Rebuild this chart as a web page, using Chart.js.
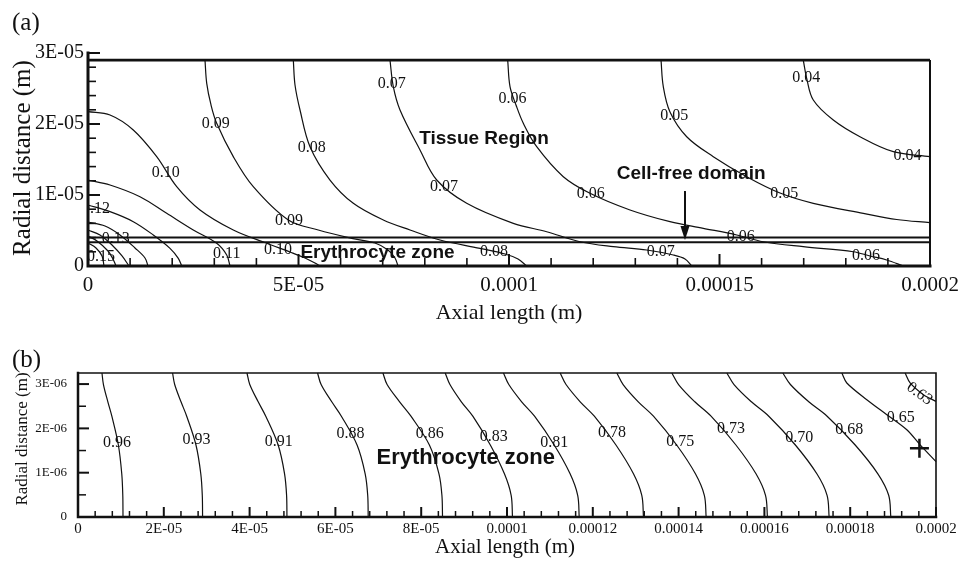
<!DOCTYPE html>
<html><head><meta charset="utf-8">
<script src="https://cdn.jsdelivr.net/npm/chart.js@4.4.1/dist/chart.umd.min.js"></script>
<style>
html,body{margin:0;padding:0;background:#fff;}
#wrap{position:relative;width:974px;height:561px;background:#fff;}
#ca{position:absolute;left:0;top:0;width:974px;height:330px;}
#cb{position:absolute;left:0;top:330px;width:974px;height:231px;}
</style></head><body>
<div id="wrap"><canvas id="ca" width="974" height="330"></canvas><canvas id="cb" width="974" height="231"></canvas></div>
<script>
// ================= Panel (a) data =================
const aXTickValues = [0, 5e-5, 1e-4, 1.5e-4, 2e-4];
const aXTickLabels = ['0', '5E-05', '0.0001', '0.00015', '0.0002'];
const aYTickValues = [0, 1e-5, 2e-5, 3e-5];
const aYTickLabels = ['0', '1E-05', '2E-05', '3E-05'];
const aTissueTop = 2.9e-5;
const aZoneBounds = [3.34e-6, 4.0e-6];

const aC015b = [[0,3.24e-6],[1.90e-6,2.54e-6],[3.33e-6,1.41e-6],[3.80e-6,0]];
const aC015a = [[0,4.23e-6],[2.14e-6,3.52e-6],[4.75e-6,2.11e-6],[5.94e-6,9.9e-7],[6.65e-6,0]];
const aC014 = [[0,5.07e-6],[2.85e-6,4.37e-6],[5.70e-6,2.96e-6],[8.08e-6,1.41e-6],[9.74e-6,0]];
const aC013 = [[0,6.20e-6],[4.04e-6,5.63e-6],[7.60e-6,4.37e-6],[1.116e-5,2.54e-6],[1.354e-5,1.13e-6],[1.425e-5,0]];
const aC012 = [[0,8.59e-6],[5.23e-6,7.65e-6],[1.076e-5,6.24e-6],[1.551e-5,4.37e-6],[1.948e-5,2.49e-6],[2.145e-5,1.08e-6],[2.226e-5,0]];
const aC011 = [[0,1.211e-5],[5.23e-6,1.141e-5],[1.235e-5,9.76e-6],[1.869e-5,7.42e-6],[2.501e-5,5.07e-6],[3.057e-5,3.20e-6],[3.295e-5,1.55e-6],[3.373e-5,0]];
const aC010 = [[0,2.173e-5],[5.23e-6,2.127e-5],[1.076e-5,1.916e-5],[1.632e-5,1.540e-5],[2.107e-5,1.117e-5],[2.660e-5,7.89e-6],[3.451e-5,5.07e-6],[4.245e-5,3.20e-6],[4.798e-5,1.97e-6],[5.154e-5,1.13e-6],[5.392e-5,4.2e-7],[5.51e-5,0]];
const aC009 = [[2.779e-5,2.9e-5],[2.820e-5,2.573e-5],[2.922e-5,2.268e-5],[3.057e-5,2.010e-5],[3.451e-5,1.540e-5],[3.926e-5,1.117e-5],[4.758e-5,6.48e-6],[5.470e-5,5.07e-6],[6.264e-5,3.90e-6],[6.817e-5,3.24e-6],[7.126e-5,2.25e-6],[7.292e-5,1.13e-6],[7.363e-5,0]];
const aC008 = [[4.877e-5,2.9e-5],[4.917e-5,2.549e-5],[5.036e-5,2.197e-5],[5.273e-5,1.680e-5],[5.748e-5,1.211e-5],[6.302e-5,8.83e-6],[7.014e-5,6.48e-6],[7.649e-5,5.07e-6],[8.361e-5,3.66e-6],[9.311e-5,2.49e-6],[9.905e-5,1.69e-6],[1.0214e-4,9.9e-7],[1.0420e-4,0]];
const aC007 = [[7.173e-5,2.9e-5],[7.252e-5,2.525e-5],[7.411e-5,2.197e-5],[7.886e-5,1.634e-5],[8.283e-5,1.211e-5],[8.995e-5,8.83e-6],[1.0102e-4,6.01e-6],[1.0895e-4,4.83e-6],[1.1686e-4,3.42e-6],[1.2477e-4,2.72e-6],[1.3271e-4,2.25e-6],[1.3903e-4,1.55e-6],[1.4181e-4,9.9e-7],[1.4340e-4,0]];
const aC006 = [[9.969e-5,2.9e-5],[1.0024e-4,2.525e-5],[1.0166e-4,2.268e-5],[1.0340e-4,2.010e-5],[1.0658e-4,1.680e-5],[1.1290e-4,1.258e-5],[1.1924e-4,1.024e-5],[1.2874e-4,7.89e-6],[1.3824e-4,6.24e-6],[1.4615e-4,5.31e-6],[1.5409e-4,4.37e-6],[1.6040e-4,3.42e-6],[1.6990e-4,2.72e-6],[1.8178e-4,2.01e-6],[1.8575e-4,1.41e-6],[1.8971e-4,8.5e-7],[1.9366e-4,0]];
const aC005 = [[1.3611e-4,2.9e-5],[1.3665e-4,2.525e-5],[1.3824e-4,2.169e-5],[1.4221e-4,1.821e-5],[1.4853e-4,1.540e-5],[1.5646e-4,1.258e-5],[1.6437e-4,1.028e-5],[1.7228e-4,8.83e-6],[1.8416e-4,7.42e-6],[1.9209e-4,6.55e-6],[2.0e-4,6.10e-6]];
const aC004 = [[1.6990e-4,2.9e-5],[1.7071e-4,2.644e-5],[1.7228e-4,2.338e-5],[1.7703e-4,2.056e-5],[1.8337e-4,1.821e-5],[1.9128e-4,1.610e-5],[2.0e-4,1.540e-5]];

const aLabelText = ['0.15','0.13','0.12','0.11','0.10','0.10','0.09','0.09','0.08','0.08','0.07','0.07','0.07','0.06','0.06','0.06','0.06','0.05','0.05','0.04','0.04'];
const aLabelX = [3.09e-6,6.60e-6,1.9e-6,3.295e-5,4.513e-5,1.846e-5,3.036e-5,4.774e-5,5.313e-5,9.644e-5,7.213e-5,8.456e-5,1.3606e-4,1.0083e-4,1.1943e-4,1.5506e-4,1.848e-4,1.3924e-4,1.6537e-4,1.7059e-4,1.9466e-4];
const aLabelY = [1.27e-6,3.90e-6,8.03e-6,1.69e-6,2.25e-6,1.314e-5,2.0e-5,6.34e-6,1.669e-5,1.97e-6,2.573e-5,1.117e-5,2.01e-6,2.349e-5,1.011e-5,4.06e-6,1.44e-6,2.115e-5,1.011e-5,2.644e-5,1.552e-5];

const aRegionText = ['Tissue Region','Cell-free domain','Erythrocyte zone'];
const aRegionX = [9.406e-5,1.4327e-4,6.876e-5];
const aRegionY = [1.789e-5,1.293e-5,1.83e-6];
const aArrowX = 1.418e-4;
const aArrowY = [1.056e-5, 3.66e-6];

// ================= Panel (b) data =================
const bXTickValues = [0,2e-5,4e-5,6e-5,8e-5,1e-4,1.2e-4,1.4e-4,1.6e-4,1.8e-4,2e-4];
const bXTickLabels = ['0','2E-05','4E-05','6E-05','8E-05','0.0001','0.00012','0.00014','0.00016','0.00018','0.0002'];
const bYTickValues = [0,1e-6,2e-6,3e-6];
const bYTickLabels = ['0','1E-06','2E-06','3E-06'];
const bYMax = 3.25e-6;

const bContourY = [3.25e-6,2.99e-6,2.6e-6,2.275e-6,1.625e-6,9.75e-7,4.9e-7,0];
const bC096X = [5.59e-6,5.93e-6,6.96e-6,7.89e-6,9.41e-6,1.020e-5,1.044e-5,1.049e-5];
const bC093X = [2.205e-5,2.254e-5,2.401e-5,2.534e-5,2.750e-5,2.862e-5,2.897e-5,2.904e-5];
const bC091X = [3.939e-5,4.004e-5,4.200e-5,4.377e-5,4.666e-5,4.815e-5,4.862e-5,4.871e-5];
const bC088X = [5.584e-5,5.667e-5,5.915e-5,6.139e-5,6.505e-5,6.694e-5,6.753e-5,6.765e-5];
const bC086X = [7.108e-5,7.205e-5,7.497e-5,7.761e-5,8.191e-5,8.414e-5,8.483e-5,8.497e-5];
const bC083X = [8.560e-5,8.670e-5,8.936e-5,9.203e-5,9.611e-5,9.940e-5,1.0097e-4,1.0128e-4];
const bC081X = [9.918e-5,1.0042e-4,1.0342e-4,1.0642e-4,1.1101e-4,1.1471e-4,1.1648e-4,1.1683e-4];
const bC078X = [1.1240e-4,1.1376e-4,1.1706e-4,1.2036e-4,1.2540e-4,1.2948e-4,1.3142e-4,1.3181e-4];
const bC075X = [1.2561e-4,1.2707e-4,1.3060e-4,1.3414e-4,1.3955e-4,1.4392e-4,1.4600e-4,1.4642e-4];
const bC073X = [1.3843e-4,1.3999e-4,1.4378e-4,1.4756e-4,1.5336e-4,1.5804e-4,1.6026e-4,1.6071e-4];
const bC070X = [1.5125e-4,1.5292e-4,1.5697e-4,1.6102e-4,1.6722e-4,1.7223e-4,1.7461e-4,1.7509e-4];
const bC068X = [1.6430e-4,1.6606e-4,1.7034e-4,1.7462e-4,1.8116e-4,1.8645e-4,1.8897e-4,1.8947e-4];
const bC065 = [[1.7805e-4,3.25e-6],[1.7921e-4,3.025e-6],[1.8387e-4,2.647e-6],[1.8854e-4,2.308e-6],[1.9320e-4,1.968e-6],[1.9630e-4,1.629e-6],[2.0e-4,1.251e-6]];
const bC063 = [[1.9280e-4,3.25e-6],[1.9397e-4,3.025e-6],[1.9707e-4,2.760e-6],[2.0e-4,2.609e-6]];
const bMarker = [1.9614e-4, 1.554e-6];

const bLabelText = ['0.96','0.93','0.91','0.88','0.86','0.83','0.81','0.78','0.75','0.73','0.70','0.68','0.65','0.63'];
const bLabelX = [9.1e-6,2.76e-5,4.68e-5,6.35e-5,8.2e-5,9.69e-5,1.110e-4,1.245e-4,1.404e-4,1.522e-4,1.681e-4,1.798e-4,1.918e-4,1.9614e-4];
const bLabelY = [1.68e-6,1.74e-6,1.70e-6,1.88e-6,1.88e-6,1.80e-6,1.68e-6,1.89e-6,1.70e-6,1.98e-6,1.78e-6,1.97e-6,2.23e-6,2.78e-6];
const bRegionText = ['Erythrocyte zone'];
const bRegionX = [9.038e-5];
const bRegionY = [1.335e-6];

// ================= helpers =================
const SERIF = '"Liberation Serif", "Times New Roman", serif';
const SANS = '"Liberation Sans", Arial, sans-serif';
const INK = '#111';
const toPts = arr => arr.map(p => ({x: p[0], y: p[1]}));
const zipPts = (xs, ys) => xs.map((x, i) => ({x: x, y: ys[i]}));
function lineDs(pts, w, tension) {
  return {data: pts, borderColor: INK, borderWidth: w, pointRadius: 0, tension: tension, fill: false, clip: false, borderCapStyle: 'butt'};
}

function makeDecor(o) {
  return {
    id: 'decor',
    afterDatasetsDraw(chart) {
      const ctx = chart.ctx, xs = chart.scales.x, ys = chart.scales.y, ca = chart.chartArea;
      const px = v => xs.getPixelForValue(v), py = v => ys.getPixelForValue(v);
      ctx.save();
      // contour labels (clipped to plot area)
      ctx.save();
      ctx.beginPath(); ctx.rect(ca.left, ca.top, ca.right - ca.left, ca.bottom - ca.top); ctx.clip();
      ctx.fillStyle = INK; ctx.font = o.labelFont; ctx.textAlign = 'center'; ctx.textBaseline = 'middle';
      o.labelText.forEach((t, i) => {
        const ang = (o.labelAngle && o.labelAngle[t]) || 0;
        ctx.save(); ctx.translate(px(o.labelX[i]), py(o.labelY[i])); ctx.rotate(ang * Math.PI / 180);
        ctx.fillText(t, 0, 0); ctx.restore();
      });
      ctx.font = o.regionFont;
      o.regionText.forEach((t, i) => ctx.fillText(t, px(o.regionX[i]), py(o.regionY[i])));
      ctx.restore();
      // arrow
      if (o.arrow) {
        const ax = px(o.arrow.x), y1 = py(o.arrow.y[0]), y2 = py(o.arrow.y[1]);
        ctx.strokeStyle = INK; ctx.fillStyle = INK; ctx.lineWidth = 2;
        ctx.beginPath(); ctx.moveTo(ax, y1); ctx.lineTo(ax, y2 - 10); ctx.stroke();
        ctx.beginPath(); ctx.moveTo(ax - 4.5, y2 - 14); ctx.lineTo(ax + 4.5, y2 - 14); ctx.lineTo(ax, y2); ctx.closePath(); ctx.fill();
      }
      // ticks (inward)
      ctx.strokeStyle = INK; ctx.lineCap = 'butt';
      const x0 = px(o.xMin), x1 = px(o.xMax), y0 = py(0);
      for (let i = 0; i <= Math.round((o.xMax - o.xMin) / o.xMinor); i++) {
        const v = o.xMin + i * o.xMinor;
        const major = Math.abs(v / o.xMajor - Math.round(v / o.xMajor)) < 1e-6;
        ctx.lineWidth = major ? o.tickW[0] : o.tickW[1];
        const L = major ? o.xTickLen[0] : o.xTickLen[1];
        ctx.beginPath(); ctx.moveTo(px(v), y0); ctx.lineTo(px(v), y0 - L); ctx.stroke();
      }
      for (let i = 0; i <= Math.round(o.yTickMax / o.yMinor); i++) {
        const v = i * o.yMinor;
        const major = Math.abs(v / o.yMajor - Math.round(v / o.yMajor)) < 1e-6;
        ctx.lineWidth = major ? o.tickW[0] : o.tickW[1];
        const L = major ? o.yTickLen[0] : o.yTickLen[1];
        ctx.beginPath(); ctx.moveTo(x0, py(v)); ctx.lineTo(x0 + L, py(v)); ctx.stroke();
      }
      // frame
      ctx.lineCap = 'square';
      ctx.lineWidth = o.axisW;
      ctx.beginPath(); ctx.moveTo(x0, py(o.leftTop)); ctx.lineTo(x0, y0); ctx.lineTo(x1, y0); ctx.stroke();
      if (o.box) {
        ctx.lineWidth = o.boxW;
        ctx.beginPath(); ctx.moveTo(x0, ca.top); ctx.lineTo(x1, ca.top); ctx.lineTo(x1, y0); ctx.stroke();
      }
      // tick labels
      ctx.fillStyle = INK;
      ctx.font = o.xTickFont; ctx.textAlign = 'center'; ctx.textBaseline = 'middle';
      o.xTickValues.forEach((v, i) => ctx.fillText(o.xTickLabels[i], px(v), y0 + o.xLabelGap));
      ctx.font = o.yTickFont; ctx.textAlign = 'right';
      o.yTickValues.forEach((v, i) => ctx.fillText(o.yTickLabels[i], x0 - o.yLabelGap, py(v)));
      // axis titles
      ctx.textAlign = 'center';
      ctx.font = o.xTitleFont; ctx.fillText('Axial length (m)', o.xTitlePos[0], o.xTitlePos[1]);
      ctx.save(); ctx.translate(o.yTitlePos[0], o.yTitlePos[1]); ctx.rotate(-Math.PI / 2);
      ctx.font = o.yTitleFont; ctx.fillText('Radial distance (m)', 0, 0); ctx.restore();
      // panel letter
      ctx.textAlign = 'left'; ctx.font = o.panelFont; ctx.fillText(o.panel, o.panelPos[0], o.panelPos[1]);
      ctx.restore();
    }
  };
}

const baseOpts = (pad, xmax, ymin, ymax) => ({
  responsive: false, animation: false, events: [],
  layout: {padding: pad},
  scales: {x: {type: 'linear', min: 0, max: xmax, display: false}, y: {type: 'linear', min: ymin, max: ymax, display: false}},
  plugins: {legend: {display: false}, tooltip: {enabled: false}}
});

// ================= Chart (a) =================
const aDatasets = [aC015b, aC015a, aC014, aC013, aC012, aC011, aC010, aC009, aC008, aC007, aC006, aC005, aC004]
  .map(c => lineDs(toPts(c), 1.2, 0.35));
aDatasets.push(lineDs([{x: 0, y: aTissueTop}, {x: 2e-4, y: aTissueTop}], 2.6, 0));
aDatasets.push(lineDs([{x: 2e-4, y: 0}, {x: 2e-4, y: aTissueTop}], 2, 0));
aZoneBounds.forEach(b => aDatasets.push(lineDs([{x: 0, y: b}, {x: 2e-4, y: b}], 2, 0)));

new Chart(document.getElementById('ca'), {
  type: 'line',
  data: {datasets: aDatasets},
  options: baseOpts({left: 88, right: 44, top: 53, bottom: 64}, 2e-4, 0, 3e-5),
  plugins: [makeDecor({
    labelText: aLabelText, labelX: aLabelX, labelY: aLabelY, labelFont: '16px ' + SERIF,
    regionText: aRegionText, regionX: aRegionX, regionY: aRegionY, regionFont: 'bold 19px ' + SANS,
    arrow: {x: aArrowX, y: aArrowY},
    xMin: 0, xMax: 2e-4, xMajor: 5e-5, xMinor: 1e-5, xTickLen: [12, 8],
    yTickMax: 3e-5, yMajor: 1e-5, yMinor: 2e-6, yTickLen: [12, 8], tickW: [2, 1.6],
    leftTop: 3e-5, axisW: 3, box: false,
    xTickValues: aXTickValues, xTickLabels: aXTickLabels, xTickFont: '21px ' + SERIF, xLabelGap: 19,
    yTickValues: aYTickValues, yTickLabels: aYTickLabels, yTickFont: '20px ' + SERIF, yLabelGap: 4,
    xTitleFont: '22px ' + SERIF, xTitlePos: [509, 313],
    yTitleFont: '25px ' + SERIF, yTitlePos: [23, 158],
    panel: '(a)', panelFont: '25px ' + SERIF, panelPos: [12, 23]
  })]
});

// ================= Chart (b) =================
const bDatasets = [bC096X, bC093X, bC091X, bC088X, bC086X, bC083X, bC081X, bC078X, bC075X, bC073X, bC070X, bC068X]
  .map(xs => lineDs(zipPts(xs, bContourY), 1.2, 0.35));
bDatasets.push(lineDs(toPts(bC065), 1.2, 0.3));
bDatasets.push(lineDs(toPts(bC063), 1.2, 0.3));
bDatasets.push({data: [{x: bMarker[0], y: bMarker[1]}], showLine: false, pointStyle: 'cross', pointRadius: 9.5,
  borderColor: INK, borderWidth: 2.5, backgroundColor: INK, clip: false});

new Chart(document.getElementById('cb'), {
  type: 'line',
  data: {datasets: bDatasets},
  options: baseOpts({left: 78, right: 38, top: 43, bottom: 44}, 2e-4, 0, bYMax),
  plugins: [makeDecor({
    labelText: bLabelText, labelX: bLabelX, labelY: bLabelY, labelFont: '16px ' + SERIF, labelAngle: {'0.63': 36},
    regionText: bRegionText, regionX: bRegionX, regionY: bRegionY, regionFont: 'bold 22px ' + SANS,
    xMin: 0, xMax: 2e-4, xMajor: 2e-5, xMinor: 4e-6, xTickLen: [10, 6],
    yTickMax: 3e-6, yMajor: 1e-6, yMinor: 5e-7, yTickLen: [11, 8], tickW: [2, 1.5],
    leftTop: bYMax, axisW: 2.5, box: true, boxW: 1.6,
    xTickValues: bXTickValues, xTickLabels: bXTickLabels, xTickFont: '15px ' + SERIF, xLabelGap: 12,
    yTickValues: bYTickValues, yTickLabels: bYTickLabels, yTickFont: '13px ' + SERIF, yLabelGap: 11,
    xTitleFont: '21px ' + SERIF, xTitlePos: [505, 217],
    yTitleFont: '17px ' + SERIF, yTitlePos: [23, 109],
    panel: '(b)', panelFont: '25px ' + SERIF, panelPos: [12, 30]
  })]
});
</script>
</body></html>
